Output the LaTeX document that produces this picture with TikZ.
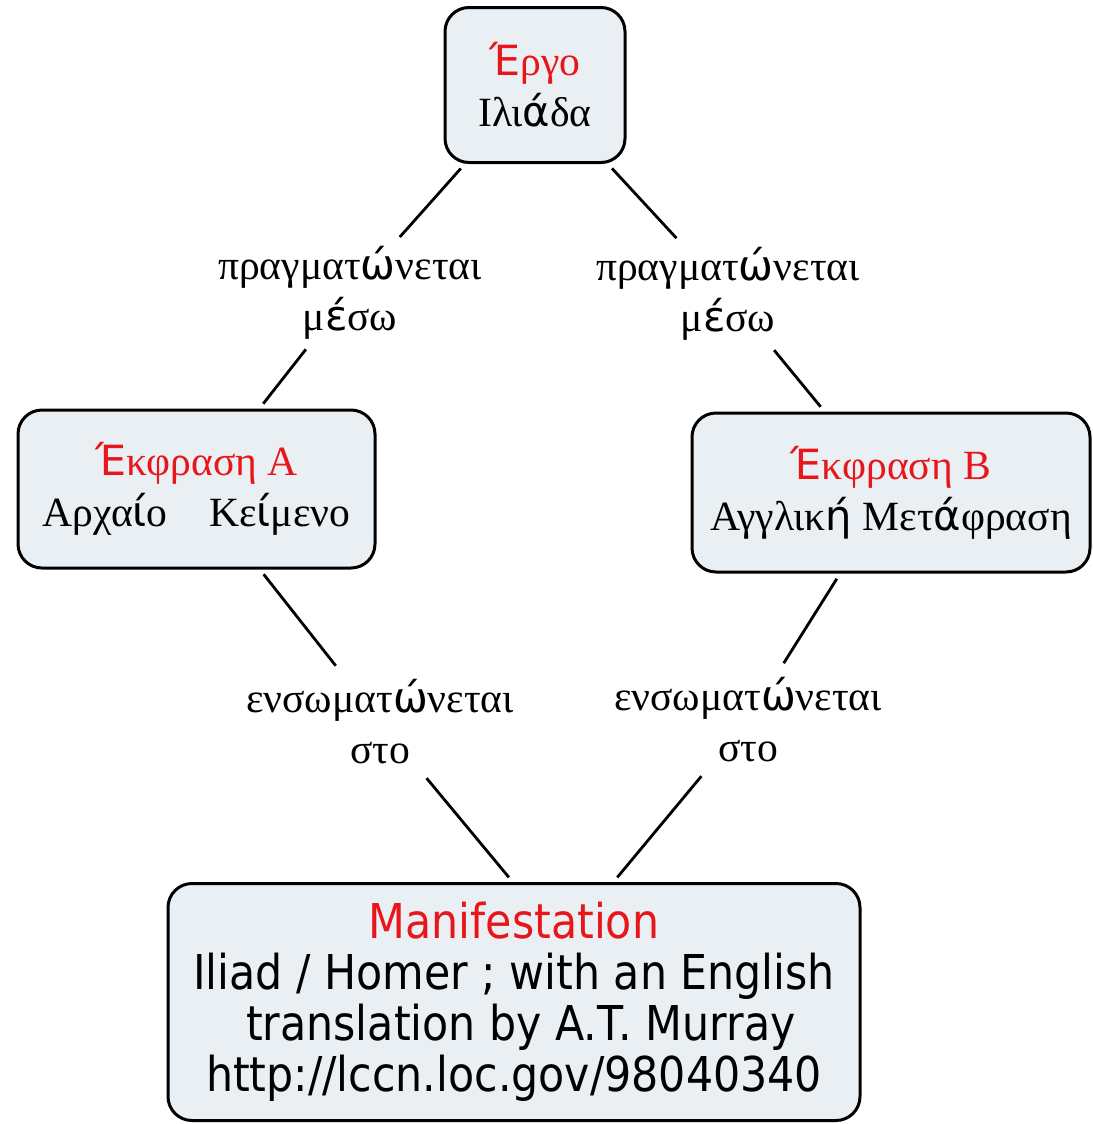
\documentclass[tikz,border=0pt]{standalone}
\usepackage{fontspec}
\setmainfont{Liberation Serif}
\newfontfamily\accfont{DejaVu Sans}
\newfontfamily\manfont{DejaVu Sans}[FakeStretch=0.89]
\definecolor{conceptfill}{RGB}{233,239,242}
\definecolor{titlered}{RGB}{232,22,26}
\newcommand{\tonos}[1]{{\accfont #1}}

\begin{document}
\begin{tikzpicture}[x=0.5pt,y=-0.5pt,
    concept/.style={draw=black, line width=1.5pt, fill=conceptfill, rounded corners=12pt,
      align=center, inner sep=0pt, outer sep=0pt, font=\fontsize{20.8}{25.5}\selectfont},
    linkphrase/.style={align=center, inner sep=0pt, outer sep=0pt, minimum height=50pt,
      minimum width=140pt, font=\fontsize{20.8}{25.5}\selectfont},
    link/.style={line width=1.4pt, shorten <=4pt, shorten >=4pt}]
  \useasboundingbox (0,0) rectangle (1092,1124);
  % concepts
  \node[concept, minimum width=90pt, minimum height=77.5pt] (work) at (535,85)
    {\textcolor{titlered}{\tonos{Έ}ργο}\\Ιλι\tonos{ά}δα};
  \node[concept, minimum width=178.5pt, minimum height=79pt] (exprA) at (196.5,489)
    {\textcolor{titlered}{\tonos{Έ}κφραση A}\\Αρχα\tonos{ί}ο\quad Κε\tonos{ί}μενο};
  \node[concept, minimum width=199pt, minimum height=79.5pt] (exprB) at (891,492.5)
    {\textcolor{titlered}{\tonos{Έ}κφραση B}\\Αγγλικ\tonos{ή} Μετ\tonos{ά}φραση};
  \node[concept, minimum width=346pt, minimum height=118.5pt,
    font=\manfont\fontsize{24}{25.5}\selectfont] (manif) at (514,1002)
    {\textcolor{titlered}{Manifestation}\\Iliad / Homer ; with an English\\
     \ translation by A.T. Murray\\http://lccn.loc.gov/98040340};
  % linking phrases
  \node[linkphrase] (lblA) at (350,293) {πραγματ\tonos{ώ}νεται\\μ\tonos{έ}σω};
  \node[linkphrase] (lblB) at (728,294) {πραγματ\tonos{ώ}νεται\\μ\tonos{έ}σω};
  \node[linkphrase] (lblC) at (380,722) {ενσωματ\tonos{ώ}νεται\\στο};
  \node[linkphrase] (lblD) at (748,720) {ενσωματ\tonos{ώ}νεται\\στο};
  % links
  \draw[link] (work) -- (lblA);
  \draw[link] (lblA) -- (exprA);
  \draw[link] (work) -- (lblB);
  \draw[link] (lblB) -- (exprB);
  \draw[link] (exprA) -- (lblC);
  \draw[link] (lblC) -- (manif.north);
  \draw[link] (exprB) -- (lblD);
  \draw[link] (lblD) -- (manif);
\end{tikzpicture}
\end{document}
